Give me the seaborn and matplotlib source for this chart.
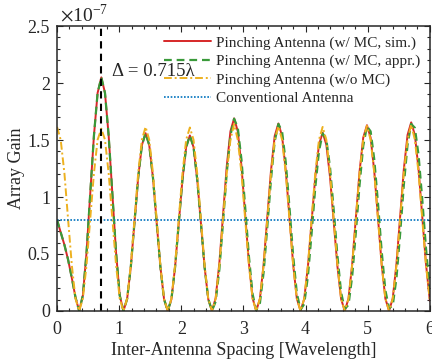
import matplotlib
matplotlib.use('Agg')
import matplotlib.pyplot as plt
from matplotlib.ticker import MultipleLocator, FuncFormatter
import seaborn as sns
import numpy as np
import pandas as pd

# inter-antenna spacing samples [wavelength]
spacing = [0.0, 0.059, 0.119, 0.178, 0.238, 0.297, 0.356, 0.416, 0.475, 0.534,
           0.594, 0.653, 0.713, 0.772, 0.831, 0.891, 0.950, 1.009, 1.069, 1.128,
           1.188, 1.247, 1.306, 1.366, 1.425, 1.484, 1.544, 1.603, 1.663, 1.722,
           1.781, 1.841, 1.900, 1.959, 2.019, 2.078, 2.138, 2.197, 2.256, 2.316,
           2.375, 2.434, 2.494, 2.553, 2.613, 2.672, 2.731, 2.791, 2.850, 2.909,
           2.969, 3.028, 3.088, 3.147, 3.206, 3.266, 3.325, 3.384, 3.444, 3.503,
           3.563, 3.622, 3.681, 3.741, 3.800, 3.859, 3.919, 3.978, 4.038, 4.097,
           4.156, 4.216, 4.275, 4.334, 4.394, 4.453, 4.513, 4.572, 4.631, 4.691,
           4.750, 4.809, 4.869, 4.928, 4.988, 5.047, 5.106, 5.166, 5.225, 5.284,
           5.344, 5.403, 5.463, 5.522, 5.581, 5.641, 5.700, 5.759, 5.819, 5.878,
           5.938, 6.0]

# array gain, x1e-7
gain_sim = [0.80, 0.69, 0.58, 0.45, 0.29, 0.12, 0.0,
            0.137, 0.513, 1.025, 1.538, 1.913, 2.05, 1.913, 1.538, 1.025, 0.513, 0.137, 0.0,
            0.105, 0.39, 0.78, 1.17, 1.455, 1.56, 1.455, 1.17, 0.78, 0.39, 0.105, 0.0,
            0.103, 0.385, 0.77, 1.155, 1.437, 1.54, 1.437, 1.155, 0.77, 0.385, 0.103, 0.0,
            0.113, 0.423, 0.845, 1.268, 1.577, 1.69, 1.577, 1.268, 0.845, 0.423, 0.113, 0.0,
            0.110, 0.411, 0.823, 1.234, 1.535, 1.645, 1.535, 1.234, 0.823, 0.411, 0.110, 0.0,
            0.105, 0.391, 0.783, 1.174, 1.460, 1.565, 1.460, 1.174, 0.783, 0.391, 0.105, 0.0,
            0.109, 0.408, 0.815, 1.223, 1.521, 1.63, 1.521, 1.223, 0.815, 0.408, 0.109, 0.0,
            0.111, 0.414, 0.828, 1.241, 1.544, 1.655, 1.544, 1.241, 0.828, 0.414, 0.09]

gain_appr = [0.80, 0.69, 0.58, 0.45, 0.29, 0.12, 0.0,
             0.137, 0.513, 1.025, 1.538, 1.913, 2.05, 1.913, 1.538, 1.025, 0.513, 0.137, 0.0,
             0.105, 0.39, 0.78, 1.17, 1.455, 1.56, 1.455, 1.17, 0.78, 0.39, 0.105, 0.0,
             0.103, 0.385, 0.77, 1.155, 1.437, 1.54, 1.437, 1.155, 0.77, 0.385, 0.103, 0.003,
             0.082, 0.366, 0.779, 1.209, 1.541, 1.687, 1.608, 1.324, 0.911, 0.481, 0.149, 0.006,
             0.071, 0.339, 0.736, 1.157, 1.488, 1.641, 1.574, 1.306, 0.909, 0.488, 0.157, 0.011,
             0.060, 0.306, 0.680, 1.082, 1.403, 1.558, 1.505, 1.259, 0.885, 0.483, 0.162, 0.017,
             0.054, 0.302, 0.688, 1.107, 1.448, 1.620, 1.576, 1.328, 0.942, 0.523, 0.182, 0.024,
             0.047, 0.290, 0.677, 1.104, 1.457, 1.641, 1.607, 1.365, 0.978, 0.551, 0.17]

gain_nomc = [1.615, 1.502, 1.208, 0.805, 0.403, 0.108, 0.0,
             0.108, 0.403, 0.805, 1.208, 1.502, 1.60, 1.502, 1.208, 0.805, 0.403, 0.108, 0.0,
             0.108, 0.403, 0.805, 1.208, 1.502, 1.615, 1.502, 1.208, 0.805, 0.403, 0.108, 0.0,
             0.108, 0.403, 0.805, 1.208, 1.502, 1.61, 1.502, 1.208, 0.805, 0.403, 0.108, 0.0,
             0.108, 0.403, 0.805, 1.208, 1.502, 1.64, 1.502, 1.208, 0.805, 0.403, 0.108, 0.0,
             0.108, 0.403, 0.805, 1.208, 1.502, 1.62, 1.502, 1.208, 0.805, 0.403, 0.108, 0.0,
             0.108, 0.403, 0.805, 1.208, 1.502, 1.615, 1.502, 1.208, 0.805, 0.403, 0.108, 0.0,
             0.108, 0.403, 0.805, 1.208, 1.502, 1.625, 1.502, 1.208, 0.805, 0.403, 0.108, 0.0,
             0.108, 0.403, 0.805, 1.208, 1.502, 1.635, 1.502, 1.208, 0.805, 0.403, 0.09]

conv_x = [0.0, 6.0]
conv_gain = [0.8, 0.8]

opt_spacing = 0.715
labels = ['Pinching Antenna (w/ MC, sim.)', 'Pinching Antenna (w/ MC, appr.)',
          'Pinching Antenna (w/o MC)', 'Conventional Antenna']

sns.set_theme(style='ticks')
plt.rcParams['font.family'] = ['Liberation Serif', 'DejaVu Serif']
plt.rcParams['mathtext.fontset'] = 'stix'
plt.rcParams['axes.edgecolor'] = '#262626'
plt.rcParams['xtick.color'] = '#262626'
plt.rcParams['ytick.color'] = '#262626'

df = pd.DataFrame({'x': spacing, 'sim': gain_sim, 'appr': gain_appr, 'nomc': gain_nomc})

fig = plt.figure(figsize=(4.32, 3.62), dpi=100)
ax = fig.add_axes([0.132, 0.141, 0.863, 0.787])

sns.lineplot(data=df, x='x', y='sim', ax=ax, color='#D62728', lw=1.4, label=labels[0])
sns.lineplot(data=df, x='x', y='appr', ax=ax, color='#3A9A3A', lw=1.6, ls=(0, (3.5, 2.2)), label=labels[1])
sns.lineplot(data=df, x='x', y='nomc', ax=ax, color='#EDB120', lw=1.4, ls=(0, (4, 1.5, 1, 1.5)), label=labels[2])
sns.lineplot(x=conv_x, y=conv_gain, ax=ax, color='#0072BD', lw=1.2, ls=(0, (1, 1)), label=labels[3])
ax.axvline(opt_spacing, color='black', lw=1.5, ls=(0, (3.5, 2.5)))
ax.text(0.88, 2.1, 'Δ = 0.715λ', fontsize=13.5, va='center', ha='left')

ax.set_xlim(0, 6)
ax.set_ylim(0, 2.5)
ax.xaxis.set_major_locator(MultipleLocator(1))
ax.xaxis.set_minor_locator(MultipleLocator(0.2))
ax.yaxis.set_major_locator(MultipleLocator(0.5))
ax.yaxis.set_minor_locator(MultipleLocator(0.1))
ax.yaxis.set_major_formatter(FuncFormatter(lambda v, p: f'{v:g}'))
ax.text(0.008, 1.003, r'$\times\mathregular{10}^{\mathregular{-7}}$', transform=ax.transAxes,
        fontsize=14, ha='left', va='bottom')
ax.tick_params(which='both', direction='in', top=True, right=True, labelsize=13, width=0.8)
ax.tick_params(which='major', length=4.5, pad=5)
ax.tick_params(axis='x', which='major', pad=7)
ax.tick_params(which='minor', length=2.5)
for s in ax.spines.values():
    s.set_linewidth(1.1)
ax.set_xlabel('Inter-Antenna Spacing [Wavelength]', fontsize=13, labelpad=3)
ax.set_ylabel('Array Gain', fontsize=13, labelpad=2)

ax.legend(loc='upper right', frameon=False, fontsize=11, handlelength=3.1,
          handletextpad=0.3, labelspacing=0.3, borderaxespad=0.45, borderpad=0.2)

plt.savefig('out.png', dpi=100)
